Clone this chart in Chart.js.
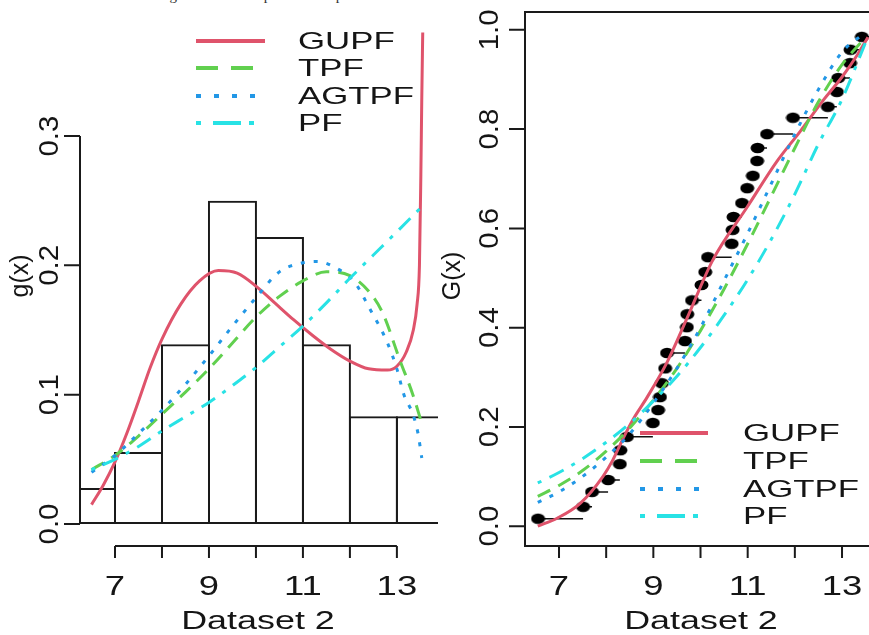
<!DOCTYPE html>
<html>
<head>
<meta charset="utf-8">
<script src="https://cdn.jsdelivr.net/npm/chart.js@4.4.1/dist/chart.umd.min.js"></script>
<style>
  body { margin: 0; background: #fff; }
  #wrap { position: relative; width: 869px; height: 635px; overflow: hidden; background: #fff; }
  #ttl { position: absolute; left: 0; width: 600px; top: -13px; text-align: center;
         font: 15px "Liberation Serif", "Times New Roman", serif; color: #333; }
  canvas { position: absolute; top: 0; }
</style>
</head>
<body>
<div id="wrap">
  <div id="ttl">Fig. 4: Estimated pdf and cdf plots for dataset 2</div>
  <canvas id="pdfPlot" width="440" height="635" style="left:0;width:440px;height:635px"></canvas>
  <canvas id="cdfPlot" width="460" height="635" style="left:440px;width:460px;height:635px"></canvas>
</div>
<script>
// histogram of dataset 2 (density scale)
const binEdges = [6, 7, 8, 9, 10, 11, 12, 13, 14];
const binDensity = [0.0278, 0.0556, 0.139, 0.25, 0.222, 0.139, 0.0833, 0.0833];

// fitted densities (left panel)
const gupfPdfX = [6.5, 6.75, 7.0, 7.25, 7.5, 7.75, 8.0, 8.4, 8.8, 9.2, 9.6, 10.0, 10.4, 10.8, 11.2, 11.6, 12.0, 12.4, 12.8, 13.0, 13.2, 13.35, 13.43, 13.48, 13.51, 13.53, 13.55];
const gupfPdf  = [0.015, 0.03, 0.048, 0.07, 0.095, 0.121, 0.143, 0.17, 0.188, 0.196, 0.194, 0.184, 0.171, 0.158, 0.146, 0.135, 0.126, 0.12, 0.119, 0.122, 0.133, 0.15, 0.17, 0.2, 0.27, 0.33, 0.38];
const tpfPdfX  = [6.5, 7, 7.5, 8, 8.5, 9, 9.5, 10, 10.5, 11, 11.5, 12, 12.4, 12.7, 13.06, 13.34, 13.52];
const tpfPdf   = [0.042, 0.053, 0.068, 0.085, 0.102, 0.12, 0.14, 0.16, 0.176, 0.188, 0.195, 0.192, 0.18, 0.163, 0.127, 0.1, 0.079];
const agtpfPdfX = [6.5, 7, 7.5, 8, 8.5, 9, 9.5, 10, 10.5, 11, 11.3, 11.7, 12.1, 12.4, 12.8, 13.0, 13.15, 13.34, 13.45, 13.53];
const agtpfPdf  = [0.04, 0.053, 0.07, 0.088, 0.108, 0.13, 0.153, 0.175, 0.195, 0.202, 0.203, 0.198, 0.187, 0.168, 0.14, 0.12, 0.1, 0.085, 0.07, 0.051];
const pfPdfX   = [6.5, 7, 7.5, 8, 8.5, 9, 9.5, 10, 10.5, 11, 11.5, 12, 12.5, 13, 13.52];
const pfPdf    = [0.042, 0.05, 0.06, 0.072, 0.083, 0.094, 0.107, 0.121, 0.137, 0.153, 0.171, 0.19, 0.208, 0.226, 0.245];

// empirical cdf points (right panel)
const ecdfX = [6.555, 7.51, 7.70, 8.04, 8.29, 8.30, 8.44, 8.99, 9.10, 9.14, 9.18, 9.25, 9.29, 9.67, 9.71, 9.72, 9.82, 10.02,
               10.10, 10.16, 10.66, 10.68, 10.70, 10.88, 10.99, 11.11, 11.20, 11.21, 11.41, 11.96, 12.70, 12.89, 12.92, 13.17, 13.18, 13.42];
const ecdfF = [0.015, 0.039, 0.069, 0.093, 0.125, 0.153, 0.18, 0.208, 0.234, 0.26, 0.288, 0.318, 0.349, 0.373, 0.401, 0.427, 0.455, 0.486,
               0.512, 0.542, 0.569, 0.597, 0.623, 0.651, 0.681, 0.706, 0.736, 0.762, 0.79, 0.823, 0.845, 0.875, 0.903, 0.933, 0.96, 0.986];

// fitted cdfs (right panel)
const gupfCdfX = [6.55, 6.96, 7.45, 7.93, 8.14, 8.36, 8.57, 8.87, 9.29, 9.71, 10.26, 10.99, 11.62, 12.11, 12.6, 13.0, 13.34, 13.55];
const gupfCdf  = [0.0, 0.016, 0.046, 0.1, 0.133, 0.177, 0.215, 0.26, 0.33, 0.418, 0.536, 0.643, 0.735, 0.795, 0.858, 0.905, 0.952, 0.985];
const cdfX     = [6.55, 7, 7.5, 8, 8.5, 9, 9.5, 10, 10.5, 11, 11.5, 12, 12.5, 13, 13.5];
const tpfCdf   = [0.06, 0.082, 0.112, 0.151, 0.198, 0.254, 0.318, 0.394, 0.478, 0.569, 0.665, 0.762, 0.855, 0.93, 0.985];
const agtpfCdf = [0.048, 0.069, 0.1, 0.139, 0.186, 0.248, 0.318, 0.4, 0.495, 0.59, 0.69, 0.79, 0.88, 0.955, 0.995];
const pfCdf    = [0.087, 0.108, 0.136, 0.169, 0.207, 0.252, 0.302, 0.36, 0.425, 0.497, 0.578, 0.669, 0.77, 0.86, 0.975];

// axes
const xTicks = [7, 8, 9, 10, 11, 12, 13];
const xTickLabels = ['7', '', '9', '', '11', '', '13'];
const pdfYTicks = [0, 0.1, 0.2, 0.3];
const pdfYLabels = ['0.0', '0.1', '0.2', '0.3'];
const cdfYTicks = [0, 0.2, 0.4, 0.6, 0.8, 1.0];
const cdfYLabels = ['0.0', '0.2', '0.4', '0.6', '0.8', '1.0'];

const modelNames = ['GUPF', 'TPF', 'AGTPF', 'PF'];
const modelColors = ['#DF536B', '#61D04F', '#2297E6', '#28E2E5'];
const curveDash = [[], [14, 9], [4, 9], [4, 9, 16, 9]];
const legendDash = [[], [22, 13], [5, 13], [5, 12, 28, 8]];

const FONT = '"Liberation Sans", Arial, Helvetica, sans-serif';

function wideText(ctx, str, x, y, size, sx, rot, align) {
    ctx.save();
    ctx.translate(x, y);
    if (rot) ctx.rotate(rot);
    ctx.scale(sx, 1);
    ctx.font = size + 'px ' + FONT;
    ctx.fillStyle = '#151515';
    ctx.textAlign = align || 'center';
    ctx.textBaseline = 'middle';
    ctx.fillText(str, 0, 0);
    ctx.restore();
}

function pts(xs, ys) {
    return xs.map((x, i) => ({x: x, y: ys[i]}));
}

// R style axes, labels and legend
const rAxes = {
    id: 'rAxes',
    afterDraw(chart, args, o) {
        const ctx = chart.ctx, xs = chart.scales.x, ys = chart.scales.y, a = chart.chartArea;
        ctx.save();
        ctx.strokeStyle = '#1a1a1a';
        ctx.lineWidth = 2;
        ctx.setLineDash([]);
        if (o.box) ctx.strokeRect(a.left, a.top, a.right - a.left, a.bottom - a.top);
        ctx.beginPath();
        ctx.moveTo(xs.getPixelForValue(xTicks[0]), a.bottom);
        ctx.lineTo(xs.getPixelForValue(xTicks[xTicks.length - 1]), a.bottom);
        xTicks.forEach(v => {
            const p = xs.getPixelForValue(v);
            ctx.moveTo(p, a.bottom);
            ctx.lineTo(p, a.bottom + 12);
        });
        ctx.moveTo(a.left, ys.getPixelForValue(o.yTicks[0]));
        ctx.lineTo(a.left, ys.getPixelForValue(o.yTicks[o.yTicks.length - 1]));
        o.yTicks.forEach(v => {
            const p = ys.getPixelForValue(v);
            ctx.moveTo(a.left - 16, p);
            ctx.lineTo(a.left, p);
        });
        ctx.stroke();

        xTicks.forEach((v, i) => {
            if (xTickLabels[i]) wideText(ctx, xTickLabels[i], xs.getPixelForValue(v), 588, 27, 1.35);
        });
        o.yTicks.forEach((v, i) => {
            wideText(ctx, o.yLabels[i], a.left - o.yLabOff, ys.getPixelForValue(v), 28, 1.05, -Math.PI / 2);
        });
        wideText(ctx, 'Dataset 2', o.xTitleX, 622, 26, 1.38);
        wideText(ctx, o.yTitle, o.yTitleX, 276, 25, 1.0, -Math.PI / 2);

        // legend
        const lg = o.legend;
        modelNames.forEach((name, i) => {
            const y = lg.rows[i];
            ctx.beginPath();
            ctx.strokeStyle = modelColors[i];
            ctx.lineWidth = 4;
            ctx.setLineDash(legendDash[i]);
            ctx.moveTo(lg.x1, y);
            ctx.lineTo(lg.x2, y);
            ctx.stroke();
            wideText(ctx, name, lg.tx, y + 1, 24, 1.45, 0, 'left');
        });
        ctx.restore();
    }
};

function curve(i, data) {
    return {
        type: 'line',
        label: modelNames[i],
        data: data,
        borderColor: modelColors[i],
        borderWidth: 3,
        borderDash: curveDash[i],
        pointRadius: 0,
        fill: false,
        cubicInterpolationMode: 'monotone'
    };
}

// left panel: histogram + fitted pdfs
const binMid = binDensity.map((d, i) => (binEdges[i] + binEdges[i + 1]) / 2);
new Chart(document.getElementById('pdfPlot'), {
    type: 'bar',
    data: {
        datasets: [
            curve(3, pts(pfPdfX, pfPdf)),
            curve(2, pts(agtpfPdfX, agtpfPdf)),
            curve(1, pts(tpfPdfX, tpfPdf)),
            curve(0, pts(gupfPdfX, gupfPdf)),
            {
                type: 'bar',
                label: 'hist',
                data: pts(binMid, binDensity),
                backgroundColor: 'rgba(255,255,255,0)',
                borderColor: '#1a1a1a',
                borderWidth: 2,
                borderSkipped: false,
                // widen a touch so neighbouring bar borders overlap into one line
                barPercentage: 1.043,
                categoryPercentage: 1
            }
        ]
    },
    options: {
        responsive: false,
        animation: false,
        events: [],
        layout: {padding: {left: 80, right: 2, top: 30, bottom: 89}},
        scales: {
            x: {type: 'linear', min: 6.255, max: 13.875, offset: false, display: false},
            y: {type: 'linear', min: -0.017, max: 0.382, display: false}
        },
        plugins: {
            legend: {display: false},
            tooltip: {enabled: false},
            rAxes: {
                box: false, yTicks: pdfYTicks, yLabels: pdfYLabels, yLabOff: 30,
                yTitle: 'g(x)', yTitleX: 21, xTitleX: 258,
                legend: {x1: 196, x2: 265, tx: 298, rows: [41, 68, 96, 123]}
            }
        }
    },
    plugins: [rAxes]
});

// right panel: empirical cdf + fitted cdfs
const dot = document.createElement('canvas');
dot.width = 15; dot.height = 12;
const dc = dot.getContext('2d');
dc.fillStyle = '#000';
dc.beginPath();
dc.ellipse(7.5, 6, 7, 5.3, 0, 0, Math.PI * 2);
dc.fill();

const stepSegs = [];
ecdfX.forEach((x, i) => {
    const xe = i < ecdfX.length - 1 ? ecdfX[i + 1] : 13.9;
    stepSegs.push({x: x, y: ecdfF[i]}, {x: xe, y: ecdfF[i]}, {x: xe, y: null});
});

new Chart(document.getElementById('cdfPlot'), {
    type: 'line',
    data: {
        datasets: [
            curve(3, pts(cdfX, pfCdf)),
            curve(2, pts(cdfX, agtpfCdf)),
            curve(1, pts(cdfX, tpfCdf)),
            curve(0, pts(gupfCdfX, gupfCdf)),
            {
                label: 'ecdf',
                data: pts(ecdfX, ecdfF),
                showLine: false,
                pointStyle: dot,
                pointRadius: 6,
                borderColor: '#000',
                backgroundColor: '#000'
            },
            {
                label: 'steps',
                data: stepSegs,
                borderColor: '#111',
                borderWidth: 1.5,
                pointRadius: 0,
                spanGaps: false,
                tension: 0
            }
        ]
    },
    options: {
        responsive: false,
        animation: false,
        events: [],
        layout: {padding: {left: 85, right: 16, top: 12, bottom: 89}},
        scales: {
            x: {type: 'linear', min: 6.279, max: 13.89, display: false},
            y: {type: 'linear', min: -0.04, max: 1.036, display: false}
        },
        plugins: {
            legend: {display: false},
            tooltip: {enabled: false},
            rAxes: {
                box: true, yTicks: cdfYTicks, yLabels: cdfYLabels, yLabOff: 35,
                yTitle: 'G(x)', yTitleX: 13, xTitleX: 261,
                legend: {x1: 200, x2: 268, tx: 303, rows: [433, 461, 489, 516]}
            }
        }
    },
    plugins: [rAxes]
});
</script>
</body>
</html>
